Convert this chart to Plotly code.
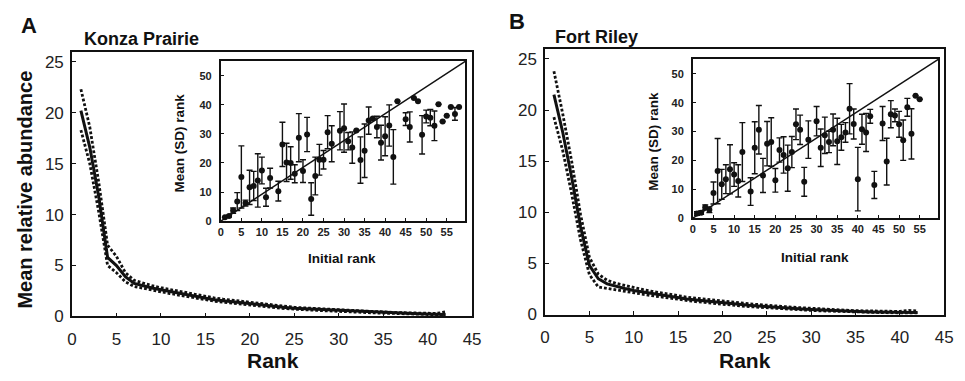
import plotly.graph_objects as go

W, H = 965, 381

# ---------------- main rank-abundance data ----------------
rank = list(range(1, 43))

konza_mean = [20.2, 16.6, 11.8, 5.8, 5.0, 3.9, 3.25, 3.0, 2.8, 2.62, 2.45, 2.3, 2.15, 1.95,
              1.78, 1.65, 1.55, 1.45, 1.33, 1.22, 1.13, 1.05, 0.97, 0.88, 0.8, 0.76, 0.71,
              0.66, 0.61, 0.57, 0.53, 0.49, 0.45, 0.41, 0.38, 0.35, 0.32, 0.29, 0.27, 0.25,
              0.22, 0.2]
konza_upper = [22.3, 18.6, 13.2, 7.0, 5.9, 4.3, 3.55, 3.25, 3.02, 2.82, 2.65, 2.5, 2.33, 2.13,
               1.95, 1.82, 1.7, 1.6, 1.48, 1.36, 1.26, 1.17, 1.08, 0.99, 0.9, 0.85, 0.8,
               0.74, 0.69, 0.64, 0.6, 0.56, 0.51, 0.47, 0.43, 0.4, 0.37, 0.34, 0.32, 0.3,
               0.3, 0.45]
konza_lower = [18.3, 15.0, 10.3, 5.0, 4.3, 3.4, 2.95, 2.75, 2.58, 2.42, 2.25, 2.1, 1.97, 1.78,
               1.62, 1.5, 1.4, 1.3, 1.19, 1.09, 1.0, 0.93, 0.86, 0.77, 0.7, 0.66, 0.62,
               0.58, 0.53, 0.5, 0.46, 0.42, 0.39, 0.35, 0.33, 0.3, 0.27, 0.24, 0.22, 0.2,
               0.17, 0.15]

fort_mean = [21.5, 17.8, 13.4, 8.6, 4.8, 3.5, 3.0, 2.75, 2.55, 2.35, 2.2, 2.05, 1.92, 1.78,
             1.62, 1.52, 1.42, 1.33, 1.22, 1.12, 1.04, 0.97, 0.9, 0.84, 0.77, 0.7, 0.65,
             0.6, 0.55, 0.5, 0.45, 0.41, 0.37, 0.33, 0.3, 0.27, 0.25, 0.23, 0.21, 0.2,
             0.22, 0.2]
fort_upper = [23.8, 19.6, 15.0, 9.8, 5.6, 3.95, 3.35, 3.05, 2.85, 2.62, 2.45, 2.28, 2.12, 1.97,
              1.8, 1.7, 1.6, 1.5, 1.38, 1.28, 1.2, 1.12, 1.05, 0.98, 0.9, 0.82, 0.77,
              0.71, 0.66, 0.6, 0.55, 0.5, 0.46, 0.42, 0.38, 0.35, 0.33, 0.31, 0.3, 0.3,
              0.4, 0.35]
fort_lower = [19.3, 16.0, 11.8, 7.3, 3.9, 2.7, 2.55, 2.4, 2.25, 2.1, 1.98, 1.85, 1.73, 1.6,
              1.45, 1.36, 1.26, 1.18, 1.08, 0.98, 0.9, 0.84, 0.77, 0.71, 0.65, 0.58, 0.54,
              0.5, 0.45, 0.4, 0.36, 0.33, 0.29, 0.26, 0.23, 0.21, 0.19, 0.17, 0.15, 0.14,
              0.14, 0.13]

# ---------------- inset data: mean (SD) rank vs initial rank ----------------
konza_init = [1, 2, 3, 4, 5, 6, 7, 8, 9, 10, 11, 12, 14, 15, 16, 17, 18, 19, 20, 21, 22, 23,
              24, 25, 26, 27, 29, 30, 31, 32, 33, 34, 35, 36, 37, 38, 39, 40, 41, 42, 43, 45,
              46, 47, 48, 49, 50, 51, 52, 53, 54, 55, 56, 57, 58]
konza_rmean = [1.3, 1.7, 3.6, 6.7, 15.2, 6.2, 11.6, 12.1, 14.0, 17.4, 8.2, 14.8, 10.3, 26.4,
               20.2, 20.0, 16.3, 28.7, 17.2, 29.8, 7.6, 15.5, 21.1, 21.1, 30.6, 26.6, 31.1,
               32.0, 27.5, 25.3, 31.2, 21.0, 24.2, 34.6, 35.3, 32.4, 27.0, 29.2, 32.9, 22.1,
               41.3, 35.1, 32.4, 42.4, 41.3, 29.7, 36.0, 35.6, 32.8, 40.2, 34.3, 36.3, 39.3,
               36.9, 39.3]
konza_rsd = [0.0, 0.3, 0.9, 3.1, 10.7, 1.0, 5.9, 5.0, 9.2, 4.6, 3.1, 3.4, 3.4, 7.6, 6.6, 5.6,
             3.1, 8.3, 3.9, 5.9, 5.6, 6.5, 5.3, 3.2, 5.7, 6.2, 6.6, 8.3, 3.0, 5.4, 0.0, 8.0,
             9.2, 4.7, 0.0, 3.7, 6.0, 6.7, 7.1, 9.4, 0.0, 2.2, 5.2, 0.0, 0.0, 6.6, 2.2, 2.8,
             5.1, 0.0, 0.0, 0.0, 0.0, 2.2, 0.0]

fort_init = [1, 2, 3, 4, 5, 6, 7, 8, 9, 10, 11, 12, 14, 15, 16, 17, 18, 19, 20, 21, 22, 23,
             24, 25, 26, 27, 28, 30, 31, 32, 33, 34, 35, 36, 37, 38, 39, 40, 41, 42, 43, 44,
             46, 47, 48, 49, 50, 51, 52, 53, 54, 55]
fort_rmean = [1.6, 1.9, 3.8, 2.9, 8.7, 16.3, 11.7, 13.5, 16.9, 15.1, 12.9, 22.9, 9.2, 24.4,
              30.6, 14.8, 25.8, 26.4, 13.1, 23.6, 21.9, 17.3, 22.9, 32.5, 30.6, 12.6, 27.2,
              33.6, 24.4, 28.7, 26.4, 30.6, 26.6, 28.0, 29.7, 37.9, 32.6, 13.5, 30.8, 29.7,
              35.3, 11.5, 32.8, 19.6, 36.0, 35.6, 32.5, 27.0, 38.4, 29.2, 42.4, 41.2]
fort_rsd = [0.6, 0.6, 0.8, 1.0, 3.8, 11.3, 5.2, 5.0, 8.5, 4.1, 5.6, 10.2, 4.8, 9.0, 8.4, 5.9,
            7.7, 8.4, 4.1, 4.2, 6.3, 8.0, 5.4, 5.3, 5.1, 5.0, 6.5, 5.1, 6.5, 6.3, 3.7, 5.5,
            8.0, 4.5, 3.4, 8.7, 5.2, 11.0, 5.2, 6.6, 2.4, 4.7, 5.9, 8.1, 4.7, 2.2, 4.5, 7.0,
            3.1, 8.7, 0.0, 0.0]

main_xticks = [0, 5, 10, 15, 20, 25, 30, 35, 40, 45]
main_yticks = [0, 5, 10, 15, 20, 25]
inset_xticks = [0, 5, 10, 15, 20, 25, 30, 35, 40, 45, 50, 55]
inset_yticks = [0, 10, 20, 30, 40, 50]

FONT = "Liberation Sans, Arial, sans-serif"
BLACK = "#111111"

fig = go.Figure()


def add_main(xa, ya, mean, upper, lower):
    for series in (upper, lower):
        fig.add_trace(go.Scatter(x=rank, y=series, xaxis=xa, yaxis=ya, mode="lines",
                                 line=dict(color=BLACK, width=2.8, dash="2.8px,2px"),
                                 showlegend=False, hoverinfo="skip"))
    fig.add_trace(go.Scatter(x=rank, y=mean, xaxis=xa, yaxis=ya, mode="lines",
                             line=dict(color=BLACK, width=3),
                             showlegend=False, hoverinfo="skip"))


def add_inset(xa, ya, xs, ys, sds):
    fig.add_trace(go.Scatter(x=xs, y=ys, xaxis=xa, yaxis=ya, mode="markers",
                             marker=dict(color=BLACK, size=6),
                             error_y=dict(type="data", array=sds, visible=True,
                                          color=BLACK, thickness=1.4, width=3),
                             showlegend=False, hoverinfo="skip"))


add_main("x", "y", konza_mean, konza_upper, konza_lower)
add_inset("x2", "y2", konza_init, konza_rmean, konza_rsd)
add_main("x3", "y3", fort_mean, fort_upper, fort_lower)
add_inset("x4", "y4", fort_init, fort_rmean, fort_rsd)


def px_x(a, b):
    return [a / W, b / W]


def px_y(top, bottom):
    return [1 - bottom / H, 1 - top / H]


main_axis = dict(showline=True, linewidth=1.6, linecolor=BLACK, mirror=True,
                 ticks="inside", ticklen=4, tickwidth=1.4, tickcolor=BLACK,
                 showgrid=False, zeroline=False,
                 tickfont=dict(family=FONT, size=17, color="#222222"))
inset_axis = dict(showline=True, linewidth=1.8, linecolor=BLACK, mirror=True,
                  ticks="inside", ticklen=3, tickwidth=1.2, tickcolor=BLACK,
                  showgrid=False, zeroline=False,
                  tickfont=dict(family=FONT, size=11, color="#222222", weight="bold"))

fig.update_layout(
    width=W, height=H, margin=dict(l=0, r=0, t=0, b=0),
    paper_bgcolor="white", plot_bgcolor="white",
    xaxis=dict(main_axis, domain=px_x(68, 474), range=[0, 45], tickvals=main_xticks,
               anchor="y", ticklabelstandoff=6),
    yaxis=dict(main_axis, domain=px_y(53, 325), range=[0, 26], tickvals=main_yticks,
               anchor="x", ticklabelstandoff=3),
    xaxis2=dict(inset_axis, domain=px_x(219, 467), range=[0, 59.5], tickvals=inset_xticks,
                anchor="y2"),
    yaxis2=dict(inset_axis, domain=px_y(63, 227), range=[0, 55], tickvals=inset_yticks,
                anchor="x2", ticklabelstandoff=5),
    xaxis3=dict(main_axis, domain=px_x(548, 953), range=[0, 45], tickvals=main_xticks,
                anchor="y3", ticklabelstandoff=6),
    yaxis3=dict(main_axis, domain=px_y(50, 323), range=[0, 26], tickvals=main_yticks,
                anchor="x3", ticklabelstandoff=3),
    xaxis4=dict(inset_axis, domain=px_x(698, 947), range=[0, 59.5], tickvals=inset_xticks,
                anchor="y4"),
    yaxis4=dict(inset_axis, domain=px_y(61, 224), range=[0, 55], tickvals=inset_yticks,
                anchor="x4", ticklabelstandoff=5),
)

# diagonal reference line across each inset
for xr, yr in (("x2 domain", "y2 domain"), ("x4 domain", "y4 domain")):
    fig.add_shape(type="line", xref=xr, yref=yr, x0=0, y0=0, x1=1, y1=1,
                  line=dict(color=BLACK, width=1.4))


def note(text, x, y, size, angle=0, xanchor="center"):
    fig.add_annotation(text=text, x=x / W, y=1 - y / H, xref="paper", yref="paper",
                       showarrow=False, textangle=angle, xanchor=xanchor, yanchor="middle",
                       font=dict(family=FONT, size=size, color=BLACK))


note("<b>A</b>", 24, 26, 22)
note("<b>B</b>", 520, 22, 22)
note("<b>Konza Prairie</b>", 78, 40, 18, xanchor="left")
note("<b>Fort Riley</b>", 556, 38, 18, xanchor="left")
note("<b>Mean relative abundance</b>", 20, 195, 20, angle=-90)
note("<b>Rank</b>", 272, 370, 21)
note("<b>Rank</b>", 751, 370, 21)
note("<b>Mean (SD) rank</b>", 177, 147, 13.5, angle=-90)
note("<b>Mean (SD) rank</b>", 658, 145, 13.5, angle=-90)
note("<b>Initial rank</b>", 342, 265, 13.5)
note("<b>Initial rank</b>", 822, 264, 13.5)

fig.write_html("out.html")
